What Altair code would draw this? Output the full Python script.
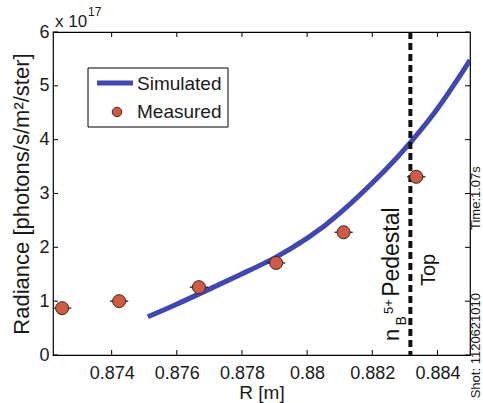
import altair as alt
import pandas as pd

FONT = "Liberation Sans"
BLUE = "#3f47b3"
RED = "#d05a44"
INK = "#1a1a1a"

# Simulated radiance profile: R [m] vs radiance [1e17 photons/s/m^2/ster]
sim_r = [0.87511, 0.87591, 0.87695, 0.87797, 0.87899, 0.88003, 0.88105,
         0.88237, 0.88320, 0.88391, 0.88452, 0.88500]
sim_v = [0.71, 0.92, 1.21, 1.50, 1.80, 2.18, 2.66,
         3.42, 3.97, 4.50, 5.03, 5.48]

# Measured chords with their radial uncertainty
meas_r = [0.87248, 0.87423, 0.87668, 0.87905, 0.88112, 0.88335]
meas_v = [0.87, 1.00, 1.26, 1.71, 2.28, 3.31]
meas_dr = [0.00028, 0.00028, 0.00028, 0.00028, 0.00028, 0.00028]

# Location of the B5+ density pedestal top
pedestal_r = [0.88317]

x_ticks = [0.874, 0.876, 0.878, 0.88, 0.882, 0.884]
y_ticks = [0, 1, 2, 3, 4, 5, 6]
x_domain = [0.8722, 0.885]
y_domain = [0, 6]

W, H = 417, 323

sim_df = pd.DataFrame({"R": sim_r, "V": sim_v})
meas_df = pd.DataFrame({"R": meas_r, "V": meas_v, "dR": meas_dr})
meas_df["lo"] = meas_df["R"] - meas_df["dR"]
meas_df["hi"] = meas_df["R"] + meas_df["dR"]

xs = alt.Scale(domain=x_domain, nice=False, zero=False)
ys = alt.Scale(domain=y_domain, nice=False, zero=False)

x_axis = alt.Axis(values=x_ticks, format=".3~f", ticks=False, domain=False, grid=False,
                  labelFont=FONT, labelFontSize=18, labelPadding=9, labelColor=INK,
                  titleFont=FONT, titleFontSize=19, titleFontWeight="normal",
                  titleColor=INK, titlePadding=1)
y_axis = alt.Axis(values=y_ticks, format="d", ticks=False, domain=False, grid=False,
                  labelFont=FONT, labelFontSize=18, labelPadding=4, labelColor=INK,
                  titleFont=FONT, titleFontSize=22, titleFontWeight="normal",
                  titleColor=INK, titlePadding=5)

X_TITLE = "R [m]"
Y_TITLE = "Radiance [photons/s/m²/ster]"


def X(field):
    return alt.X(field, type="quantitative", scale=xs, axis=x_axis, title=X_TITLE)


def Y(field):
    return alt.Y(field, type="quantitative", scale=ys, axis=y_axis, title=Y_TITLE)


line = alt.Chart(sim_df).mark_line(color=BLUE, strokeWidth=5, interpolate="natural",
                                   clip=True).encode(x=X("R"), y=Y("V"))

pedestal = alt.Chart(pd.DataFrame({"R": pedestal_r})).mark_rule(
    color="#111111", strokeWidth=4, strokeDash=[7, 4]).encode(x=X("R"))

errbars = alt.Chart(meas_df).mark_rule(color="#222222", strokeWidth=1.3).encode(
    x=X("lo"), x2="hi:Q", y=Y("V"))

points = alt.Chart(meas_df).mark_circle(size=170, color=RED, opacity=1,
                                        stroke="#3a2a20", strokeWidth=1).encode(
    x=X("R"), y=Y("V"))

# Inward-pointing tick marks on all four sides of the box
xt_df = pd.DataFrame({"R": x_ticks})
yt_df = pd.DataFrame({"V": y_ticks})
tick_style = dict(color="black", strokeWidth=1)
bottom_ticks = alt.Chart(xt_df).mark_rule(**tick_style).encode(
    x=X("R"), y=alt.value(H), y2=alt.value(H - 5))
top_ticks = alt.Chart(xt_df).mark_rule(**tick_style).encode(
    x=X("R"), y=alt.value(0), y2=alt.value(5))
left_ticks = alt.Chart(yt_df).mark_rule(**tick_style).encode(
    y=Y("V"), x=alt.value(0), x2=alt.value(5))
right_ticks = alt.Chart(yt_df).mark_rule(**tick_style).encode(
    y=Y("V"), x=alt.value(W), x2=alt.value(W - 5))

# Legend box
one = pd.DataFrame({"k": [0]})
leg_box = alt.Chart(one).mark_rect(fill="white", stroke="black", strokeWidth=1).encode(
    x=alt.value(35), x2=alt.value(175), y=alt.value(36), y2=alt.value(95))
leg_line = alt.Chart(one).mark_rule(color=BLUE, strokeWidth=5).encode(
    x=alt.value(44), x2=alt.value(80), y=alt.value(51))
leg_dot = alt.Chart(one).mark_circle(size=90, color=RED, opacity=1,
                                     stroke="#3a2a20", strokeWidth=1).encode(
    x=alt.value(64), y=alt.value(80))
leg_txt1 = alt.Chart(one).mark_text(align="left", baseline="alphabetic", font=FONT,
                                    fontSize=19, color=INK).encode(
    x=alt.value(84), y=alt.value(58), text=alt.value("Simulated"))
leg_txt2 = alt.Chart(one).mark_text(align="left", baseline="alphabetic", font=FONT,
                                    fontSize=19, color=INK).encode(
    x=alt.value(84), y=alt.value(86), text=alt.value("Measured"))

# Axis multiplier
mult = alt.Chart(one).mark_text(align="left", baseline="alphabetic", font=FONT,
                                fontSize=17, color=INK).encode(
    x=alt.value(2), y=alt.value(-5), text=alt.value("x 10"))
mult_exp = alt.Chart(one).mark_text(align="left", baseline="alphabetic", font=FONT,
                                    fontSize=12, color=INK).encode(
    x=alt.value(35), y=alt.value(-16), text=alt.value("17"))


def rot_text(text, r, v, size, align="left"):
    return alt.Chart(pd.DataFrame({"R": [r], "V": [v], "t": [text]})).mark_text(
        angle=270, align=align, baseline="alphabetic", font=FONT, fontSize=size,
        color="#111111").encode(x=X("R"), y=Y("V"), text="t:N")


ann = [
    rot_text("n", 0.882831, 0.26, 22),
    rot_text("B", 0.883046, 0.55, 14),
    rot_text("5+", 0.882646, 0.76, 13),
    rot_text("Pedestal", 0.882831, 1.08, 23),
    rot_text("Top", 0.883938, 1.58, 20, align="center"),
]

shot = alt.Chart(one).mark_text(angle=270, align="right", baseline="alphabetic",
                                font=FONT, fontSize=13, color=INK).encode(
    x=alt.value(427), y=alt.value(261), text=alt.value("Shot: 1120621010"))
time_txt = alt.Chart(one).mark_text(angle=270, align="left", baseline="alphabetic",
                                    font=FONT, fontSize=13, color=INK).encode(
    x=alt.value(427), y=alt.value(198), text=alt.value("Time:1.07s"))

chart = alt.layer(
    line, pedestal, errbars, points,
    bottom_ticks, top_ticks, left_ticks, right_ticks,
    leg_box, leg_line, leg_dot, leg_txt1, leg_txt2,
    mult, mult_exp, *ann, shot, time_txt,
).properties(
    width=W, height=H,
    autosize=alt.AutoSizeParams(type="none"),
    padding={"left": 53, "top": 32, "right": 13, "bottom": 48},
    background="white",
).configure_view(stroke="black", strokeWidth=1.2)

chart.save("out.html", embed_options={"renderer": "svg", "actions": False})
